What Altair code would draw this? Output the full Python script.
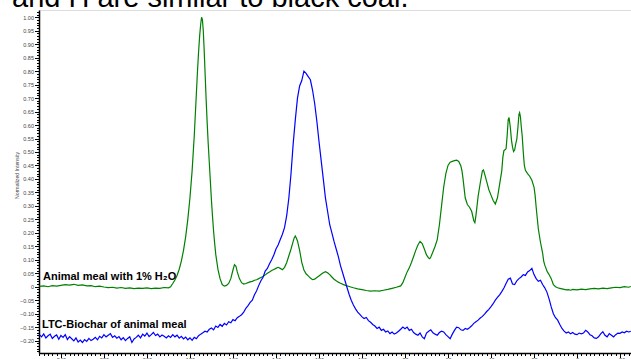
import altair as alt
import pandas as pd

# 13C NMR spectra, chemical shift in ppm, intensity normalized to the tallest peak
blue_ppm = list(range(250, -26, -1))
blue_int = [
    # 250 .. 241
    -0.178, -0.186, -0.175, -0.190, -0.182, -0.176, -0.192, -0.184, -0.179, -0.195,
    # 240 .. 231
    -0.181, -0.188, -0.178, -0.196, -0.185, -0.193, -0.201, -0.190, -0.205, -0.198,
    # 230 .. 221
    -0.207, -0.196, -0.203, -0.192, -0.200, -0.195, -0.188, -0.197, -0.184, -0.190,
    # 220 .. 211
    -0.178, -0.186, -0.180, -0.174, -0.188, -0.182, -0.191, -0.185, -0.197, -0.189,
    # 210 .. 201
    -0.200, -0.192, -0.186, -0.207, -0.194, -0.188, -0.180, -0.190, -0.176, -0.183,
    # 200 .. 191
    -0.172, -0.185, -0.178, -0.170, -0.181, -0.176, -0.186, -0.179, -0.184, -0.190,
    # 190 .. 181
    -0.182, -0.188, -0.178, -0.186, -0.180, -0.191, -0.184, -0.194, -0.187, -0.197,
    # 180 .. 171
    -0.190, -0.199, -0.188, -0.193, -0.182, -0.176, -0.171, -0.165, -0.168, -0.158,
    # 170 .. 161
    -0.153, -0.160, -0.146, -0.151, -0.140, -0.147, -0.136, -0.142, -0.130, -0.134,
    # 160 .. 151
    -0.122, -0.126, -0.115, -0.110, -0.104, -0.094, -0.080, -0.070, -0.058, -0.050,
    # 150 .. 141
    -0.030, -0.015, 0.005, 0.022, 0.035, 0.058, 0.068, 0.085, 0.100, 0.118,
    # 140 .. 131
    0.140, 0.155, 0.175, 0.195, 0.220, 0.265, 0.330, 0.420, 0.530, 0.620,
    # 130 .. 121
    0.700, 0.745, 0.765, 0.800, 0.792, 0.780, 0.768, 0.730, 0.680, 0.615,
    # 120 .. 111
    0.540, 0.470, 0.400, 0.330, 0.280, 0.230, 0.200, 0.168, 0.140, 0.112,
    # 110 .. 101
    0.078, 0.052, 0.025, -0.002, -0.028, -0.050, -0.068, -0.082, -0.094, -0.103,
    # 100 .. 91
    -0.112, -0.118, -0.114, -0.126, -0.132, -0.140, -0.146, -0.155, -0.150, -0.162,
    # 90 .. 81
    -0.158, -0.168, -0.164, -0.174, -0.168, -0.176, -0.172, -0.165, -0.158, -0.150,
    # 80 .. 71
    -0.156, -0.150, -0.162, -0.158, -0.170, -0.176, -0.180, -0.172, -0.186, -0.193,
    # 70 .. 61
    -0.172, -0.165, -0.160, -0.171, -0.176, -0.180, -0.170, -0.165, -0.168, -0.178,
    # 60 .. 51
    -0.185, -0.193, -0.176, -0.162, -0.150, -0.152, -0.160, -0.162, -0.155, -0.158,
    # 50 .. 41
    -0.152, -0.145, -0.136, -0.130, -0.124, -0.116, -0.110, -0.102, -0.092, -0.084,
    # 40 .. 31
    -0.074, -0.063, -0.050, -0.040, -0.030, -0.018, -0.005, 0.012, 0.028, 0.032,
    # 30 .. 21
    0.010, 0.008, 0.022, 0.030, 0.036, 0.045, 0.042, 0.055, 0.060, 0.068,
    # 20 .. 11
    0.045, 0.030, 0.020, 0.024, 0.008, -0.004, -0.020, -0.045, -0.075, -0.100,
    # 10 .. 1
    -0.115, -0.124, -0.140, -0.155, -0.165, -0.172, -0.168, -0.175, -0.170, -0.176,
    # 0 .. -9
    -0.178, -0.172, -0.175, -0.172, -0.162, -0.168, -0.178, -0.182, -0.190, -0.192,
    # -10 .. -19
    -0.186, -0.175, -0.167, -0.180, -0.186, -0.174, -0.180, -0.186, -0.178, -0.172,
    # -20 .. -25
    -0.173, -0.168, -0.171, -0.165, -0.168, -0.166,
]

# (ppm, intensity) for the animal meal spectrum
green_pts = [
    (250, 0.001), (248, 0.003), (246, 0.000), (244, 0.004), (242, 0.002), (240, 0.005),
    (238, 0.008), (236, 0.006), (234, 0.009), (232, 0.005), (230, 0.007), (228, 0.003),
    (226, 0.004), (224, 0.000), (222, 0.002), (220, -0.001), (218, -0.003), (216, -0.002),
    (214, -0.005), (212, -0.003), (210, -0.006), (208, -0.004), (206, -0.007), (204, -0.005),
    (202, -0.006), (200, -0.004), (198, -0.007), (196, -0.005), (194, -0.006), (192, -0.003),
    (190, -0.004), (189, 0.000),
    (188, 0.012), (187, 0.025), (186, 0.042), (185, 0.065), (184, 0.095), (183, 0.135),
    (182, 0.185), (181, 0.250), (180, 0.330), (179, 0.430), (178, 0.560), (177.5, 0.640),
    (177, 0.720), (176.5, 0.800), (176, 0.870), (175.5, 0.930), (175, 0.975), (174.6, 1.000),
    (174.2, 0.990), (173.8, 0.950), (173.4, 0.880), (173, 0.800), (172.5, 0.700), (172, 0.610),
    (171.5, 0.530), (171, 0.460), (170.5, 0.390), (170, 0.320), (169.5, 0.260), (169, 0.205),
    (168.5, 0.160), (168, 0.120), (167, 0.065), (166, 0.030), (165, 0.008), (164, 0.002),
    (163, 0.005), (162, 0.012), (161, 0.030), (160, 0.062), (159.3, 0.082), (158.6, 0.076),
    (158, 0.055), (157, 0.030), (156, 0.015), (155, 0.010),
    (154, 0.012), (153, 0.015), (152, 0.018), (151, 0.020), (150, 0.024), (149, 0.026),
    (148, 0.030), (147, 0.034), (146, 0.038), (145, 0.044), (144, 0.050), (143, 0.055),
    (142, 0.060), (141, 0.064), (140, 0.068), (139, 0.072), (138, 0.068), (137, 0.063),
    (136, 0.072), (135, 0.090), (134, 0.115), (133, 0.140), (132, 0.168), (131.5, 0.182),
    (131, 0.188), (130.5, 0.180), (130, 0.170), (129, 0.135), (128, 0.090), (127, 0.062),
    (126, 0.048), (125, 0.040), (124, 0.032), (123, 0.026), (122, 0.028), (121, 0.034),
    (120, 0.040), (119, 0.046), (118, 0.052), (117, 0.056), (116, 0.052), (115, 0.045),
    (114, 0.036), (113, 0.028), (112, 0.022), (111, 0.017), (110, 0.013), (108, 0.006),
    (106, 0.001), (104, -0.004), (102, -0.008), (100, -0.011), (98, -0.014), (96, -0.016),
    (94, -0.015), (92, -0.016), (90, -0.013), (88, -0.010), (86, -0.006), (84, -0.002),
    (82, 0.003), (81, 0.015), (80, 0.035), (79, 0.055), (78, 0.070), (77, 0.090),
    (76, 0.112), (75, 0.135), (74, 0.155), (73, 0.168), (72, 0.160), (71, 0.140),
    (70, 0.118), (69, 0.106), (68.5, 0.104), (68, 0.110), (67, 0.130), (66, 0.150),
    (65, 0.175), (64, 0.230), (63, 0.300), (62, 0.370), (61, 0.420), (60, 0.450),
    (59, 0.462), (58, 0.465), (57, 0.468), (56, 0.470), (55, 0.465), (54, 0.448),
    (53.5, 0.430), (53, 0.400), (52, 0.330), (51, 0.305), (50, 0.295), (49, 0.280),
    (48, 0.245), (47.5, 0.238), (47, 0.265), (46, 0.335), (45, 0.385), (44, 0.430),
    (43.5, 0.433), (43, 0.420), (42, 0.390), (41, 0.360), (40, 0.340), (39, 0.320),
    (38, 0.307), (37, 0.330), (36, 0.380), (35, 0.430), (34.5, 0.480), (34, 0.505),
    (33.5, 0.508), (33, 0.512), (32.5, 0.560), (32, 0.620), (31.6, 0.628), (31, 0.590),
    (30.5, 0.545), (30, 0.518), (29.5, 0.502), (29, 0.508), (28.5, 0.530), (28, 0.548),
    (27.5, 0.590), (27, 0.640), (26.7, 0.646), (26.3, 0.630), (26, 0.600), (25.5, 0.560),
    (25, 0.500), (24.5, 0.450), (24, 0.432), (23, 0.420), (22, 0.410), (21, 0.395),
    (20, 0.370), (19.5, 0.340), (19, 0.295), (18.5, 0.255), (18, 0.215), (17, 0.165),
    (16, 0.125), (15.5, 0.095), (15, 0.080), (14.5, 0.070), (14, 0.058), (13, 0.045),
    (12, 0.030), (11, 0.008), (10, 0.000), (9, -0.004), (8, -0.006), (6, -0.010),
    (5, -0.012), (4, -0.011), (3, -0.013), (2, -0.010), (0, -0.012), (-2, -0.009),
    (-4, -0.011), (-6, -0.008), (-8, -0.006), (-10, -0.008), (-12, -0.005), (-14, -0.007),
    (-16, -0.004), (-18, -0.002), (-20, -0.003), (-22, 0.000), (-24, -0.002), (-25, 0.001),
]

green_label = "Animal meal with 1% H\u2082O"
blue_label = "LTC-Biochar of animal meal"
headline = "and H are similar to black coal."

# tick positions: every 2 ppm (labelled every 20), every 0.01 (labelled every 0.05)
x_ticks = list(range(250, -26, -2))
y_ticks = [round(v / 100, 2) for v in range(-24, 103)]

assert len(blue_ppm) == len(blue_int)

green_df = pd.DataFrame(green_pts, columns=["ppm", "intensity"])
blue_df = pd.DataFrame({"ppm": blue_ppm, "intensity": blue_int})

FONT = "Liberation Sans"
AXIS_GREY = "#444444"

x_enc = alt.X(
    "ppm:Q",
    scale=alt.Scale(domain=[-25.1, 250.2], reverse=True, nice=False, zero=False),
    axis=alt.Axis(
        values=x_ticks,
        title=None,
        grid=False,
        domainColor="black",
        domainWidth=1.5,
        tickColor="black",
        tickWidth=1,
        tickSize={"condition": {"test": "datum.value % 20 === 0", "value": 4.5}, "value": 2.5},
        labelExpr="datum.value % 20 === 0 ? datum.label : ''",
        labelOverlap=False,
        labelFlush=False,
        labelFont=FONT,
        labelFontSize=5.5,
        labelColor=AXIS_GREY,
        labelPadding=0,
    ),
)

major_y = "abs(round(datum.value * 100)) % 5 === 0"
y_enc = alt.Y(
    "intensity:Q",
    scale=alt.Scale(domain=[-0.246, 1.027], nice=False, zero=False),
    axis=alt.Axis(
        values=y_ticks,
        title="Normalized Intensity",
        titleFont=FONT,
        titleFontSize=5.2,
        titleFontWeight="normal",
        titleColor=AXIS_GREY,
        titleAngle=270,
        titleX=-23,
        titleY=165,
        titleAlign="center",
        titleBaseline="middle",
        grid=False,
        domainColor="black",
        domainWidth=1.5,
        tickColor="black",
        tickWidth=1,
        tickSize={"condition": {"test": major_y, "value": 4.5}, "value": 2.5},
        labelExpr=f"{major_y} ? (abs(datum.value) < 0.001 ? '0' : format(datum.value, '.2f')) : ''",
        labelOverlap=False,
        labelFlush=False,
        labelFont=FONT,
        labelFontSize=5.5,
        labelColor=AXIS_GREY,
        labelPadding=1,
    ),
)

green_line = alt.Chart(green_df).mark_line(color="#008000", strokeWidth=1.2).encode(
    x=x_enc, y=y_enc
)
blue_line = alt.Chart(blue_df).mark_line(color="#0000ff", strokeWidth=1.2).encode(
    x=x_enc, y=y_enc
)


def note(text, x, y, size, weight):
    return alt.Chart(pd.DataFrame({"t": [text]})).mark_text(
        align="left", baseline="alphabetic", font=FONT, fontSize=size,
        fontWeight=weight, color="black",
    ).encode(text="t:N", x=alt.value(x), y=alt.value(y))


chart = alt.layer(
    green_line,
    blue_line,
    note(green_label, 4, 270, 11, "bold"),
    note(blue_label, 3, 317.5, 11, "bold"),
    note(headline, -27, -3.5, 29, "normal"),
).properties(
    width=592,
    height=343,
    autosize=alt.AutoSizeParams(type="none"),
    padding={"left": 39, "top": 10, "right": 0, "bottom": 6},
).configure_view(stroke=None).configure(background="white")

chart.save("out.html", embed_options={"renderer": "svg", "actions": False})
